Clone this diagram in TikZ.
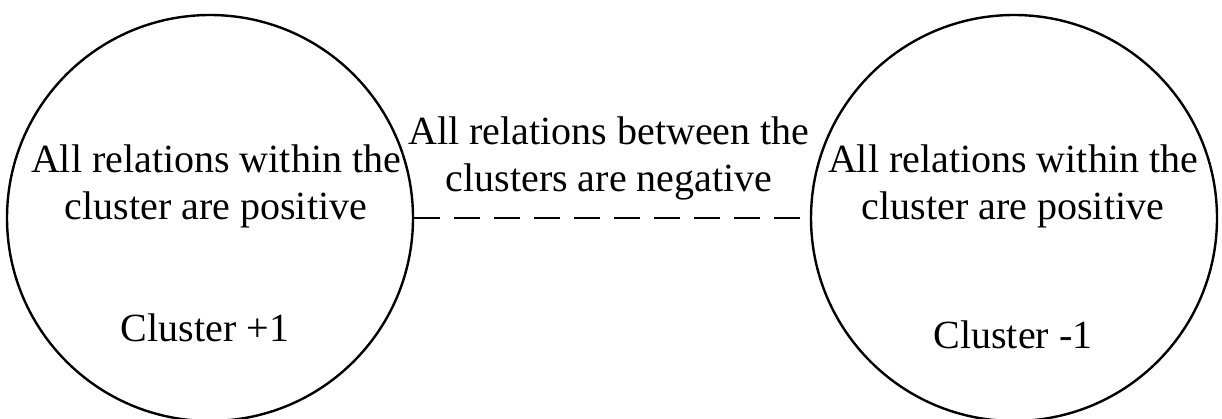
\documentclass[tikz,border=0pt]{standalone}
\usepackage{fontspec}
\setmainfont{Liberation Serif}
\begin{document}
\begin{tikzpicture}[x=1pt,y=1pt,
  cluster/.style={draw=black,line width=2.4pt,circle,minimum size=406pt,inner sep=0pt},
  lbl/.style={align=center,inner sep=0pt,font=\fontsize{40}{47}\selectfont},
  link/.style={line width=2.6pt,dash pattern=on 26pt off 14pt}]
\useasboundingbox (0,0) rectangle (1222,418);
\node[cluster] (c1) at (210,200) {};
\node[cluster] (c2) at (1014,200) {};
\draw[link] (c1.east) -- (c2.west);
\node[lbl,anchor=base] (t1) at (216,198) {All relations within the\\cluster are positive};
\node[lbl,anchor=base] (t2) at (1013,198) {All relations within the\\cluster are positive};
\node[lbl,anchor=base] (t3) at (609,226) {All relations between the\\clusters are negative};
\node[lbl,anchor=base] (n1) at (205,77) {Cluster +1};
\node[lbl,anchor=base] (n2) at (1013,70) {Cluster -1};
\end{tikzpicture}
\end{document}
